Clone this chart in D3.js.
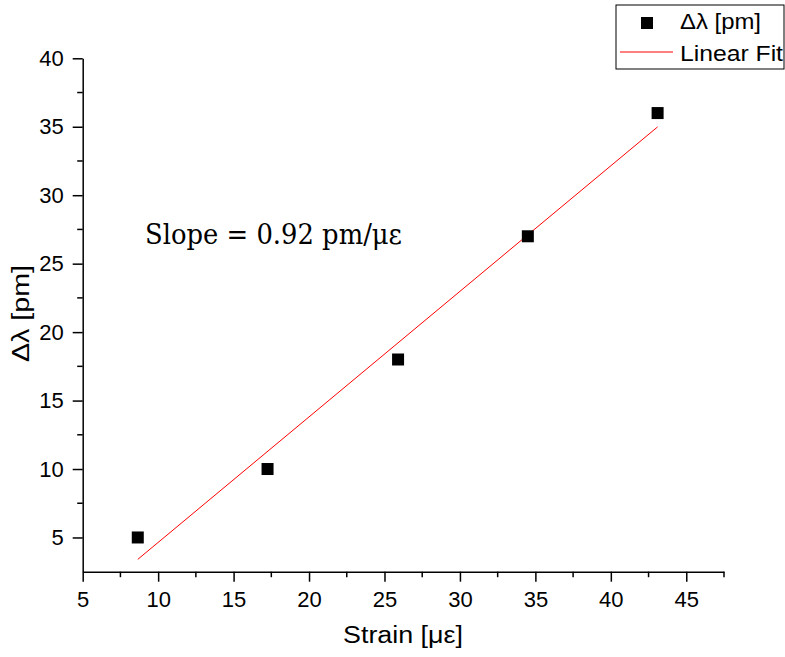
<!DOCTYPE html>
<html>
<head>
<meta charset="utf-8">
<script src="https://cdn.jsdelivr.net/npm/d3@7"></script>
<style>
  body { margin: 0; background: #fff; }
  svg { display: block; font-family: "Liberation Sans", Arial, sans-serif; }
</style>
</head>
<body>
<svg id="chart" width="785" height="657"></svg>
<script>
// measured data
var strain = [8.65, 17.25, 25.9, 34.5, 43.1];
var shift = [5, 10, 18, 27, 36];
var xTicks = [5, 10, 15, 20, 25, 30, 35, 40, 45];
var yTicks = [5, 10, 15, 20, 25, 30, 35, 40];
var slopeLabel = "Slope = 0.92 pm/\u03bc\u03b5";

var svg = d3.select("#chart");

var x = d3.scaleLinear().domain([5, 47.5]).range([82.7, 724]);
var y = d3.scaleLinear().domain([2.5, 40]).range([571.7, 58.3]);

// least squares fit
var mx = d3.mean(strain), my = d3.mean(shift);
var sxy = d3.sum(strain, function(d, i) { return (d - mx) * (shift[i] - my); });
var sxx = d3.sum(strain, function(d) { return (d - mx) * (d - mx); });
var slope = sxy / sxx;
var icpt = my - slope * mx;
var fitPts = d3.extent(strain).map(function(v) { return [v, icpt + slope * v]; });

// minor ticks
var xMinor = d3.range(7.5, 47.6, 5);
var yMinor = d3.range(7.5, 40, 5);

var xAxis = svg.append("g").attr("transform", "translate(0,571.7)");
xAxis.call(d3.axisBottom(x).tickValues(xTicks).tickSize(10).tickPadding(10).tickSizeOuter(0));
xAxis.append("g").selectAll("line").data(xMinor).enter().append("line")
  .attr("x1", function(d) { return x(d); }).attr("x2", function(d) { return x(d); })
  .attr("y1", 0).attr("y2", 5.5).attr("stroke", "#000").attr("stroke-width", 1.5);

var yAxis = svg.append("g").attr("transform", "translate(82.7,0)");
yAxis.call(d3.axisLeft(y).tickValues(yTicks).tickSize(10).tickPadding(9).tickSizeOuter(0));
yAxis.append("g").selectAll("line").data(yMinor).enter().append("line")
  .attr("y1", function(d) { return y(d); }).attr("y2", function(d) { return y(d); })
  .attr("x1", 0).attr("x2", -5.5).attr("stroke", "#000").attr("stroke-width", 1.5);

svg.selectAll(".domain").attr("stroke-width", 1.5);
svg.selectAll(".tick line").attr("stroke-width", 1.5);
svg.selectAll(".tick text").attr("font-size", 22).attr("font-family", "Liberation Sans, Arial, sans-serif").attr("fill", "#000");

// fit line
svg.append("path")
  .attr("d", d3.line().x(function(d) { return x(d[0]); }).y(function(d) { return y(d[1]); })(fitPts))
  .attr("fill", "none").attr("stroke", "#ff0000").attr("stroke-width", 1);

// points
svg.append("g").selectAll("rect").data(strain).enter().append("rect")
  .attr("x", function(d) { return x(d) - 6; })
  .attr("y", function(d, i) { return y(shift[i]) - 6; })
  .attr("width", 12).attr("height", 12).attr("fill", "#000");

// axis titles
svg.append("text").attr("x", 343).attr("y", 643)
  .attr("font-size", 23).attr("textLength", 120).attr("lengthAdjust", "spacingAndGlyphs")
  .text("Strain [\u03bc\u03b5]");
svg.append("text").attr("transform", "translate(29,362) rotate(-90)")
  .attr("font-size", 23).attr("textLength", 97).attr("lengthAdjust", "spacingAndGlyphs")
  .text("\u0394\u03bb [pm]");

// annotation
svg.append("text").attr("x", 145).attr("y", 244)
  .attr("font-family", "DejaVu Serif, Liberation Serif, serif").attr("font-size", 27)
  .attr("textLength", 257).attr("lengthAdjust", "spacingAndGlyphs")
  .text(slopeLabel);

// legend
var leg = svg.append("g");
leg.append("rect").attr("x", 616).attr("y", 5).attr("width", 168).attr("height", 64)
  .attr("fill", "#fff").attr("stroke", "#000").attr("stroke-width", 1);
leg.append("rect").attr("x", 641).attr("y", 17).attr("width", 12).attr("height", 12).attr("fill", "#000");
leg.append("text").attr("x", 680).attr("y", 29).attr("font-size", 22)
  .attr("textLength", 81).attr("lengthAdjust", "spacingAndGlyphs").text("\u0394\u03bb [pm]");
leg.append("line").attr("x1", 620).attr("x2", 673).attr("y1", 52).attr("y2", 52)
  .attr("stroke", "#ff0000").attr("stroke-width", 1);
leg.append("text").attr("x", 680).attr("y", 61).attr("font-size", 22)
  .attr("textLength", 103).attr("lengthAdjust", "spacingAndGlyphs").text("Linear Fit");
</script>
</body>
</html>
